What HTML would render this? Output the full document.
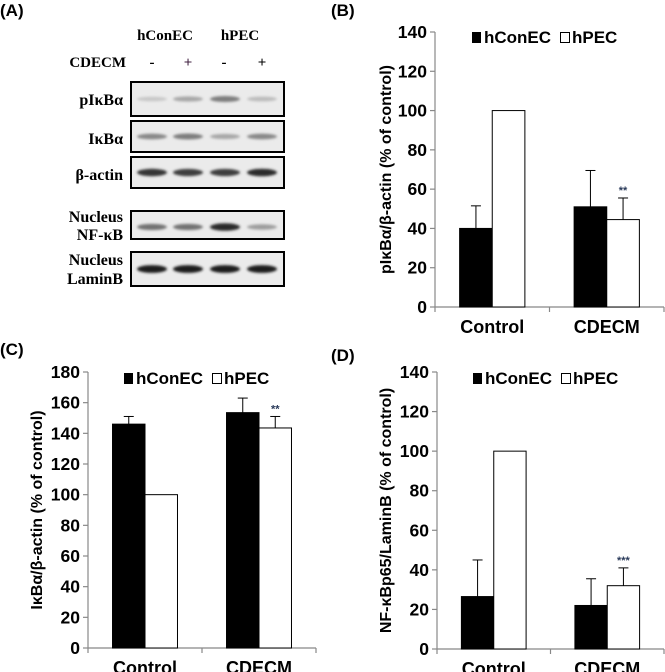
<!DOCTYPE html>
<html><head><meta charset="utf-8"><style>
html,body{margin:0;padding:0;background:#fff;}
svg{display:block;}
text{font-family:"Liberation Sans",Arial,sans-serif;font-weight:bold;}
.tm{font-family:"Liberation Serif","Times New Roman",serif;font-weight:bold;}
</style></head><body>
<svg id="fig" width="665" height="672" viewBox="0 0 665 672" xmlns="http://www.w3.org/2000/svg">
<defs>
<filter id="bl" x="-20%" y="-100%" width="140%" height="300%"><feGaussianBlur stdDeviation="1.4"/></filter>
</defs>
<g>
<text x="0" y="16" font-size="17">(A)</text>
<text class="tm" x="165" y="40" font-size="15" text-anchor="middle">hConEC</text>
<text class="tm" x="240" y="40" font-size="15" text-anchor="middle">hPEC</text>
<text class="tm" x="126" y="67" font-size="15" text-anchor="end">CDECM</text>
<text class="tm" x="152" y="67" font-size="15" text-anchor="middle">-</text>
<text class="tm" x="188" y="67" font-size="15" text-anchor="middle" fill="#402040">+</text>
<text class="tm" x="224" y="67" font-size="15" text-anchor="middle">-</text>
<text class="tm" x="262" y="67" font-size="15" text-anchor="middle">+</text>
<g id="blots"></g>
<text class="tm" x="123" y="105" font-size="16" text-anchor="end">pIκBα</text>
<text class="tm" x="123" y="144" font-size="16" text-anchor="end">IκBα</text>
<text class="tm" x="123" y="180" font-size="16" text-anchor="end">β-actin</text>
<text class="tm" x="123" y="222" font-size="16" text-anchor="end">Nucleus</text>
<text class="tm" x="123" y="240" font-size="16" text-anchor="end">NF-κB</text>
<text class="tm" x="123" y="265" font-size="16" text-anchor="end">Nucleus</text>
<text class="tm" x="123" y="284" font-size="16" text-anchor="end">LaminB</text>
</g>
<g id="chartB"></g><g id="chartC"></g><g id="chartD"></g>
</svg>
<script>
// blot band intensities (0..1) per row, per lane
const blotRows = ["pIκBα","IκBα","β-actin","NF-κB","LaminB"];
const bandIntensity = [[0.15,0.3,0.5,0.2],[0.45,0.5,0.3,0.45],[0.85,0.8,0.8,0.9],[0.55,0.55,0.9,0.35],[0.95,0.95,0.95,0.95]];

// Panel B data
const catsB = ["Control","CDECM"];
const conB = [40,51], conErrB = [11.5,18.5];
const pecB = [100,44.5], pecErrB = [0,11];
const ticksB = [0,20,40,60,80,100,120,140];
// Panel C data
const catsC = ["Control","CDECM"];
const conC = [146,153.5], conErrC = [5,9.5];
const pecC = [100,143.5], pecErrC = [0,7.5];
const ticksC = [0,20,40,60,80,100,120,140,160,180];
// Panel D data
const catsD = ["Control","CDECM"];
const conD = [26.5,22], conErrD = [18.5,13.5];
const pecD = [100,32], pecErrD = [0,9];
const ticksD = [0,20,40,60,80,100,120,140];

const NS="http://www.w3.org/2000/svg";
function mk(tag, attrs, parent){const e=document.createElementNS(NS,tag);for(const k in attrs)e.setAttribute(k,attrs[k]);parent.appendChild(e);return e;}

(function(){
  const g=document.getElementById('blots');
  const boxes=[[82,116],[121,152],[157,188],[211,239],[252,286]];
  const lanes=[152,188,225,262];
  boxes.forEach((b,r)=>{
    const box=mk('rect',{x:131,y:b[0],width:153,height:b[1]-b[0],fill:'#ebebeb',stroke:'#000','stroke-width':2},g);
    
    
    const cy=(b[0]+b[1])/2+(r===3?2:0);
    lanes.forEach((lx,i)=>{
      const v=bandIntensity[r][i];
      const c=Math.round(230-210*v);
      const band=mk('ellipse',{cx:lx,cy:cy,rx:15,ry:2+2*v,fill:`rgb(${c},${c},${c})`,filter:'url(#bl)'},g);
      
      
    });
  });
})();

function chart(id, cfg){
  const g=document.getElementById(id);
  const {x0,x1,y0,y1,max,ticks,cats,con,conErr,pec,pecErr,title,label,labelX,labelY,legY,legX,starText}=cfg;
  const ys=v=>y0-(v/max)*(y0-y1);
  const step=(x1-x0)/cats.length, bw=step*0.285;
  let t=mk('text',{x:labelX,y:labelY,'font-size':17},g);t.textContent=label;
  
  
  let a=mk('line',{x1:x0,y1:y1,x2:x0,y2:y0,stroke:'#888','stroke-width':1.2},g);
  
  
  a=mk('line',{x1:x0,y1:y0,x2:x1,y2:y0,stroke:'#888','stroke-width':1.2},g);
  
  
  ticks.forEach(v=>{
    const y=ys(v);
    const l=mk('line',{x1:x0-5,y1:y,x2:x0,y2:y,stroke:'#888','stroke-width':1.2},g);
    
    
    const tt=mk('text',{x:x0-8,y:y+6,'font-size':17.5,'text-anchor':'end'},g);
    tt.textContent=v;
    
    
  });
  for(let i=0;i<=cats.length;i++){
    const x=x0+i*step;
    const l=mk('line',{x1:x,y1:y0,x2:x,y2:y0+5,stroke:'#888','stroke-width':1.2},g);
    
    
  }
  cats.forEach((c,i)=>{
    const cx=x0+(i+0.5)*step;
    const ct=mk('text',{x:cx,y:y0+26,'font-size':18,'text-anchor':'middle'},g);
    ct.textContent=c;
    
    
    [[con,conErr,'#000','bar-hconec'],[pec,pecErr,'#fff','bar-hpec']].forEach((s,j)=>{
      const v=s[0][i],e=s[1][i];
      const bx=cx-bw+j*bw;
      if(e>0){
        const el=mk('line',{x1:bx+bw/2,y1:ys(v),x2:bx+bw/2,y2:ys(v+e),stroke:'#000','stroke-width':1},g);
        
        
        const cp=mk('line',{x1:bx+bw/2-5,y1:ys(v+e),x2:bx+bw/2+5,y2:ys(v+e),stroke:'#000','stroke-width':1},g);
        
        
      }
      const r=mk('rect',{x:bx,y:ys(v),width:bw,height:y0-ys(v),fill:s[2],stroke:'#000','stroke-width':1},g);
      
      
    });
  });
  const sx=x0+1.5*step+bw/2, sv=pec[1]+pecErr[1];
  const st=mk('text',{x:sx,y:ys(sv)-4,'font-size':11,'text-anchor':'middle',fill:'#2a3a5a'},g);
  st.textContent=starText;
  
  
  const yt=mk('text',{x:0,y:0,'font-size':16,'text-anchor':'middle',transform:`translate(${cfg.titleX},${(y0+y1)/2}) rotate(-90)`},g);
  yt.textContent=title;
  
  
  const s1=mk('rect',{x:legX,y:legY-11,width:9,height:11,fill:'#000'},g);
  
  
  const l1=mk('text',{x:legX+12,y:legY,'font-size':17},g);l1.textContent='hConEC';
  
  
  const s2=mk('rect',{x:legX+88.5,y:legY-10.5,width:9,height:10,fill:'#fff',stroke:'#000','stroke-width':1},g);
  
  
  const l2=mk('text',{x:legX+100,y:legY,'font-size':17},g);l2.textContent='hPEC';
  
  
}
chart('chartB',{x0:435,x1:664,y0:307,y1:32,max:140,ticks:ticksB,cats:catsB,con:conB,conErr:conErrB,pec:pecB,pecErr:pecErrB,
  title:'pIκBα/β-actin (% of control)',label:'(B)',labelX:331,labelY:16,legY:43,legX:472,titleX:391,starText:'**'});
chart('chartC',{x0:88,x1:316,y0:648,y1:372,max:180,ticks:ticksC,cats:catsC,con:conC,conErr:conErrC,pec:pecC,pecErr:pecErrC,
  title:'IκBα/β-actin (% of control)',label:'(C)',labelX:0,labelY:355,legY:384,legX:124,titleX:42,starText:'**'});
chart('chartD',{x0:437,x1:664,y0:649,y1:372,max:140,ticks:ticksD,cats:catsD,con:conD,conErr:conErrD,pec:pecD,pecErr:pecErrD,
  title:'NF-κBp65/LaminB (% of control)',label:'(D)',labelX:331,labelY:361,legY:384,legX:473,titleX:391,starText:'***'});
</script>
</body></html>
